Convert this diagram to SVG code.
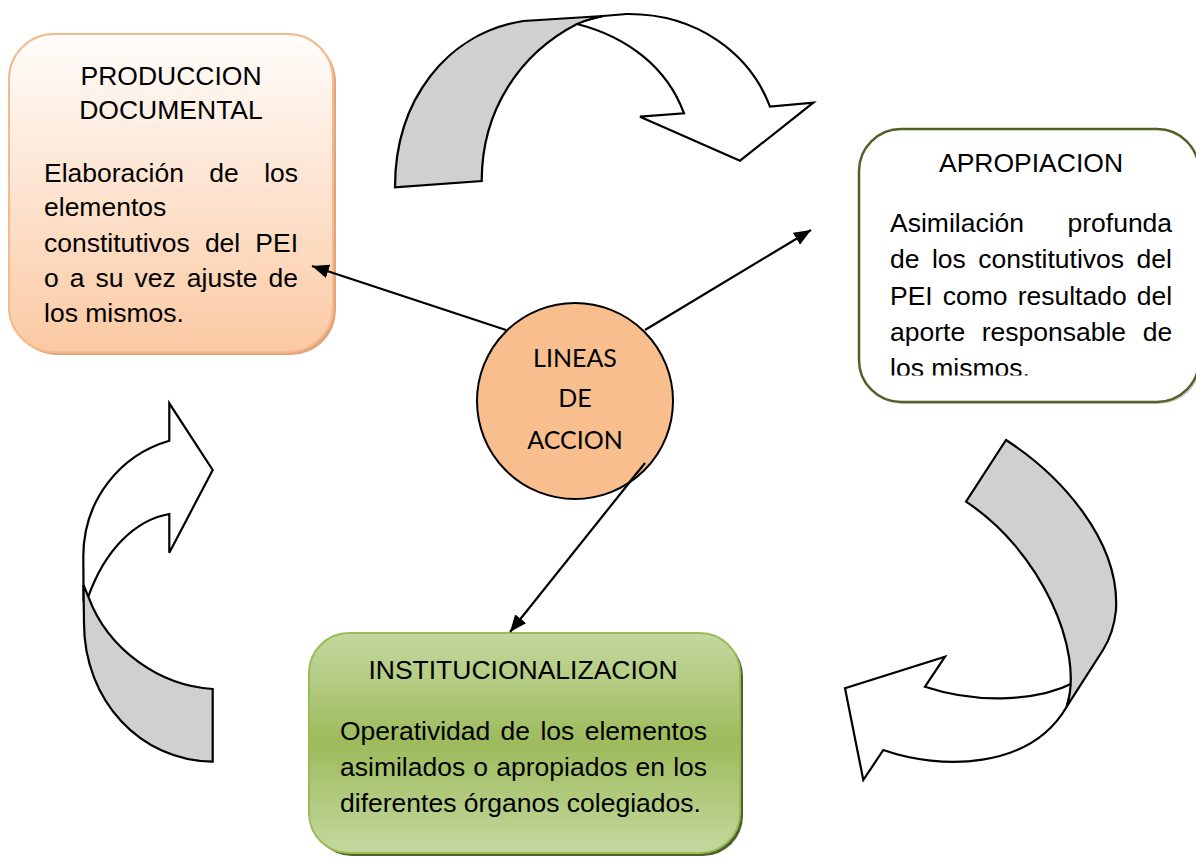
<svg xmlns="http://www.w3.org/2000/svg" width="1196" height="859" viewBox="0 0 1196 859">
<defs>
<linearGradient id="gOrange" x1="0" y1="0" x2="0" y2="1">
<stop offset="0" stop-color="#FFFDFB"/>
<stop offset="1" stop-color="#FBC9A3"/>
</linearGradient>
<linearGradient id="gGreen" x1="0" y1="0" x2="0" y2="1">
<stop offset="0" stop-color="#C4D89F"/>
<stop offset="0.5" stop-color="#9DBB5C"/>
<stop offset="1" stop-color="#C4D89F"/>
</linearGradient>
<marker id="ah" markerWidth="18" markerHeight="14" refX="17" refY="7" orient="auto" markerUnits="userSpaceOnUse">
<path d="M0,0 L17,7 L0,14 Z" fill="#000"/>
</marker>
<clipPath id="clipApro"><rect x="858" y="128" width="340" height="247.5"/></clipPath>
</defs>
<style>
.t{font-family:"Liberation Sans",Arial,sans-serif;font-size:26.5px;fill:#000}
.c{font-family:Lato,"Open Sans",sans-serif;font-size:25px;fill:#000;text-anchor:middle}
.band{stroke:#000;stroke-width:2.2;stroke-linejoin:miter}
.conn{stroke:#000;stroke-width:2.2;fill:none;marker-end:url(#ah)}
</style>
<rect width="1196" height="859" fill="#fff"/>

<g id="curved-arrows">
<g id="arrow-top">
<path class="band" fill="#fff" d="M577,24 C585,20 595,18 603,16 L626.7,14 C696.7,13.3 750,53.3 770,106.7 L813.3,102.7 L740,160.7 L640,116.7 L684,113.3 C666.7,66.7 626.7,36.7 577,24 Z"/>
<path class="band" fill="#D0D0D0" d="M395,187.3 C395,100 446.7,33.3 523.3,21 L603,16 C595,18 585,20 577,24 C520,53.3 481.7,110 481.7,181 Z"/>
</g>
<g id="arrow-left">
<path class="band" fill="#fff" d="M88.3,596.7 C105,550 135,520 169.3,514 L169.3,552.7 L212.7,470 L169.3,403.3 L169.3,440.7 C120,455 83.3,500 83.3,556.7 L83.6,600 Z"/>
<path class="band" fill="#D0D0D0" d="M83.5,585 L84,623 C84,700 140,761 212.7,761.7 L212.7,689 C160,686 108,650 88.3,596.7 Z"/>
</g>
<g id="arrow-right">
<path class="band" fill="#fff" d="M1073,683 C1040,700 980,705 925,686.7 L945,656.7 L845,688.3 L863.3,780 L883.3,750 C940,770 1030,770 1066.7,706.7 Z"/>
<path class="band" fill="#D0D0D0" d="M1006,440 C1060,475 1120,540 1116,610 C1114,630 1108,642 1103,650 L1066.7,706.7 C1085,650 1040,550 966,501.7 Z"/>
</g>
</g>

<g id="node-produccion">
<rect x="12" y="37" width="324" height="318" rx="45" fill="#E3A47A"/>
<rect x="9" y="34" width="324" height="318" rx="45" fill="url(#gOrange)" stroke="#F5B98E" stroke-width="2"/>
<text class="t" x="171" y="85" text-anchor="middle">PRODUCCION</text>
<text class="t" x="171" y="119" text-anchor="middle">DOCUMENTAL</text>
<text class="t" x="44" y="182" word-spacing="18">Elaboración de los</text>
<text class="t" x="44" y="216">elementos</text>
<text class="t" x="44" y="252" word-spacing="7.7">constitutivos del PEI</text>
<text class="t" x="44" y="287" word-spacing="3.66">o a su vez ajuste de</text>
<text class="t" x="44" y="322">los mismos.</text>
</g>

<g id="node-apropiacion">
<rect x="861" y="131" width="340" height="273" rx="42" fill="#9A9A9A" opacity="0.5"/>
<rect x="859" y="129" width="340" height="273" rx="42" fill="#fff" stroke="#4F6228" stroke-width="2.5"/>
<text class="t" x="1031" y="172" text-anchor="middle">APROPIACION</text>
<g clip-path="url(#clipApro)">
<text class="t" x="890" y="232" word-spacing="36.1">Asimilación profunda</text>
<text class="t" x="890" y="268" word-spacing="5.1">de los constitutivos del</text>
<text class="t" x="890" y="305" word-spacing="2.7">PEI como resultado del</text>
<text class="t" x="890" y="341" word-spacing="9.2">aporte responsable de</text>
<text class="t" x="890" y="376.5">los mismos.</text>
</g>
</g>

<g id="node-institucionalizacion">
<rect x="312" y="636" width="431" height="220" rx="40" fill="#4F6228"/>
<rect x="309" y="633" width="431" height="220" rx="40" fill="url(#gGreen)" stroke="#9BBB59" stroke-width="2"/>
<text class="t" x="523" y="679" text-anchor="middle">INSTITUCIONALIZACION</text>
<text class="t" x="340" y="740" word-spacing="3">Operatividad de los elementos</text>
<text class="t" x="340" y="776" word-spacing="0.8">asimilados o apropiados en los</text>
<text class="t" x="340" y="812">diferentes órganos colegiados.</text>
</g>

<g id="connectors">
<line class="conn" x1="506" y1="330" x2="312" y2="266"/>
<line class="conn" x1="645" y1="330" x2="811" y2="230"/>
<line class="conn" x1="645" y1="463" x2="510" y2="632"/>
</g>

<g id="node-lineas">
<circle cx="575" cy="401" r="98" fill="#F9BE8E" stroke="#000" stroke-width="2"/>
<line x1="645" y1="463" x2="628" y2="484" stroke="#000" stroke-width="2.2"/>
<text class="c" x="575" y="367">LINEAS</text>
<text class="c" x="575" y="407">DE</text>
<text class="c" x="575" y="449">ACCION</text>
</g>
</svg>
